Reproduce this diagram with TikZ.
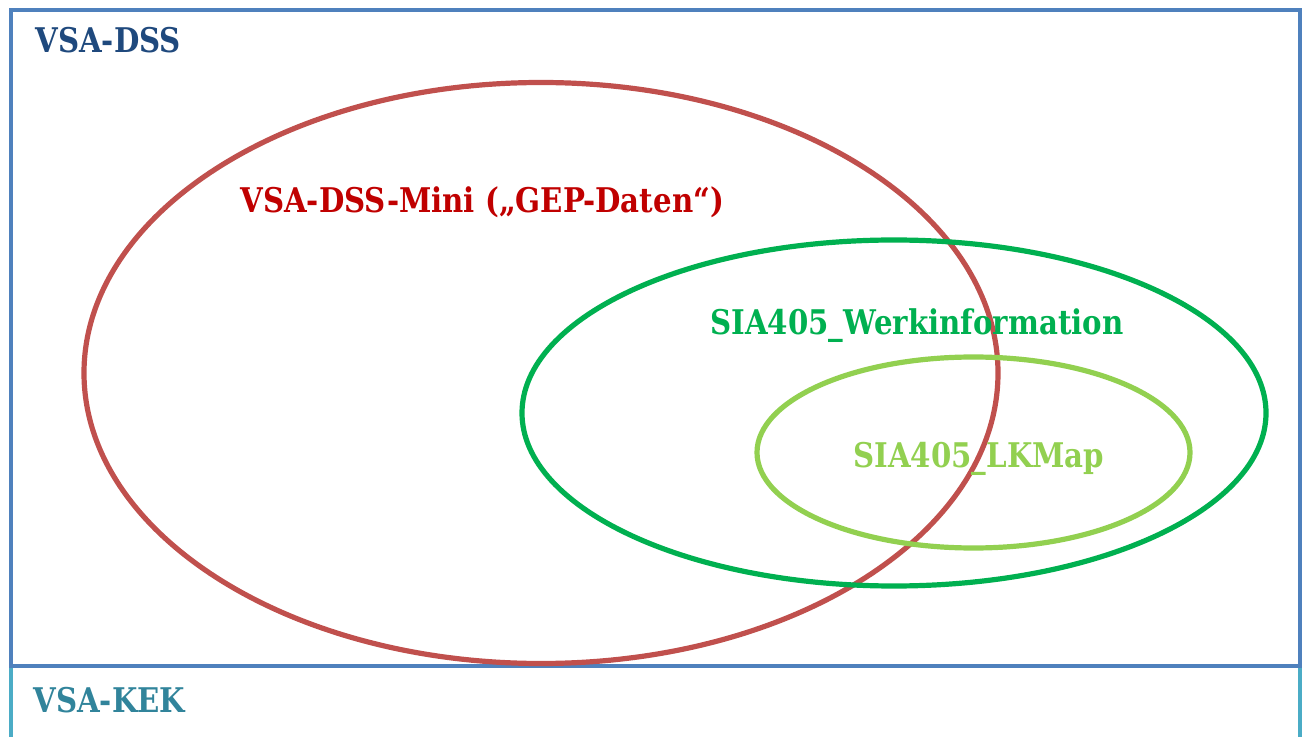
\documentclass[tikz,border=0pt]{standalone}
\usepackage{fontspec}
\setmainfont{DejaVu Serif}[FakeStretch=0.86]
\usetikzlibrary{shapes.geometric}
\usetikzlibrary{positioning}
\definecolor{dss-frame}{HTML}{4F81BD}
\definecolor{dss-text}{HTML}{1F497D}
\definecolor{kek-frame}{HTML}{4BACC6}
\definecolor{kek-text}{HTML}{31849B}
\definecolor{mini-line}{HTML}{C0504D}
\definecolor{mini-text}{HTML}{C00000}
\definecolor{werk-green}{HTML}{00B050}
\definecolor{lk-green}{HTML}{92D050}
\tikzset{
  model-frame/.style={line width=2pt, draw=#1},
  model-set/.style={ellipse, draw=#1, line width=2.6pt, inner sep=0pt, outer sep=0pt},
  model-label/.style={anchor=base west, inner sep=0pt, text=#1,
    font=\bfseries\fontsize{17}{19}\selectfont},
}

\begin{document}
\begin{tikzpicture}[x=0.5pt, y=-0.5pt]
\useasboundingbox (0,0) rectangle (1306,737);
% frames
\draw[model-frame=kek-frame] (11,737) -- (11,666) -- (1300,666) -- (1300,737);
\draw[model-frame=dss-frame] (11,10) rectangle (1300,666);
% sets
\node[model-set=mini-line, minimum width=457pt, minimum height=290.5pt] (mini) at (541,373) {};
\node[model-set=werk-green, minimum width=372pt, minimum height=173pt] (werk) at (894,413) {};
\node[model-set=lk-green, minimum width=216.5pt, minimum height=95.5pt] (lkmap) at (973.5,452.5) {};
% labels
\node[model-label=dss-text] (dss-label) at (35,53) {VSA-DSS};
\node[model-label=kek-text] (kek-label) at (33,712) {VSA-KEK};
\node[model-label=mini-text] (mini-label) at (240,213) {VSA-DSS-Mini („GEP-Daten“)};
\node[model-label=werk-green] (werk-label) at (710,335) {SIA405\_Werkinformation};
\node[model-label=lk-green] (lkmap-label) at (853,467) {SIA405\_LKMap};
\end{tikzpicture}
\end{document}
